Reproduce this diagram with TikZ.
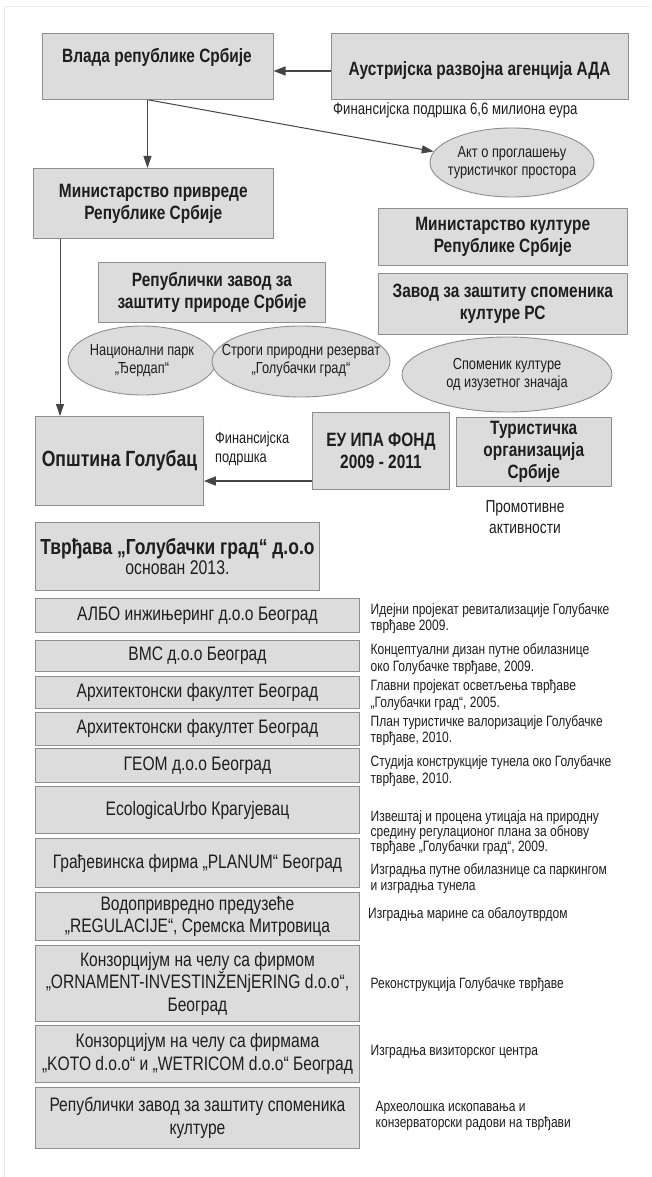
\documentclass[tikz,border=0pt]{standalone}
\usepackage{fontspec}
\setmainfont{Liberation Sans}[FakeStretch=0.8]
\usetikzlibrary{arrows.meta,shapes.geometric}
\definecolor{boxfill}{HTML}{DCDCDC}
\definecolor{boxline}{HTML}{8E8E8E}
\definecolor{ink}{HTML}{1E1E1E}
\definecolor{arrowcol}{HTML}{454545}
\definecolor{framecol}{HTML}{ECECEC}
\begin{document}
\begin{tikzpicture}[x=1pt,y=-1pt,
  box/.style={draw=boxline,fill=boxfill,line width=0.9pt,rectangle,anchor=north west,
    inner sep=0pt,text=ink,align=center},
  oval/.style={draw=boxline,fill=boxfill,line width=0.9pt,ellipse,inner sep=0pt},
  ovaltext/.style={text=ink,inner sep=0pt,align=center,font=\fontsize{16}{18.5}\selectfont},
  bt/.style={font=\bfseries\fontsize{19.3}{22}\selectfont},
  rt/.style={font=\fontsize{19.5}{22.5}\selectfont},
  note/.style={anchor=west,align=left,text=ink,inner sep=0pt,font=\fontsize{15}{16.7}\selectfont},
  txt/.style={text=ink,inner sep=0pt},
  thinarrow/.style={draw=arrowcol,line width=1pt,-{Triangle[length=12pt,width=8pt]}},
  thickarrow/.style={draw=arrowcol,line width=1.6pt,-{Triangle[length=12pt,width=9pt]}}
]
\useasboundingbox (0,0) rectangle (651,1177);
\fill[white] (0,0) rectangle (651,1177);
\draw[framecol,line width=0.8pt] (4,1177) -- (4,6) -- (651,6);

% top boxes
\node[box,minimum width=231.1pt,minimum height=66pt] (vlada) at (41.5,33) {};
\node[txt,bt] (vladat) at (157,57) {Влада републике Србије};
\node[box,minimum width=297pt,minimum height=66pt] (aus) at (331,33) {};
\node[txt,bt] (aust) at (479.5,71) {Аустријска развојна агенција АДА};
\node[note,font=\fontsize{16.5}{18}\selectfont] (fin66) at (333,110) {Финансијска подршка 6,6 милиона еура};

\node[oval,minimum width=164pt,minimum height=69pt] (akt) at (512,162.5) {};
\node[ovaltext] (aktt) at (akt) {Акт о проглашењу\\туристичког простора};

\node[box,bt,minimum width=239.6pt,minimum height=70pt] (minp) at (33,168) {Министарство привреде\\Републике Србије};
\node[box,bt,minimum width=249.4pt,minimum height=57pt] (mink) at (377.6,208) {Министарство културе\\Републике Србије};
\node[box,bt,minimum width=227pt,minimum height=60pt] (rzzp) at (98,262) {Републички завод за\\заштиту природе Србије};
\node[box,bt,minimum width=249.4pt,minimum height=61pt] (zzsk) at (377.6,273) {Завод за заштиту споменика\\културе РС};

\node[oval,minimum width=148pt,minimum height=69pt] (np) at (142,360.5) {};
\node[ovaltext] (npt) at (np) {Национални парк\\„Ђердап“};
\node[oval,minimum width=178pt,minimum height=71pt] (srr) at (301,361.5) {};
\node[ovaltext] (srrt) at ([yshift=1pt]srr.center) {Строги природни резерват\\„Голубачки град“};
\node[oval,minimum width=210pt,minimum height=75pt] (spk) at (507,374.5) {};
\node[ovaltext] (spkt) at (spk) {Споменик културе\\од изузетног значаја};

\node[box,minimum width=168pt,minimum height=89pt,font=\bfseries\fontsize{22}{26}\selectfont] (opst) at (35,416) {Општина Голубац};
\node[box,bt,minimum width=137pt,minimum height=77pt] (eu) at (312,412) {ЕУ ИПА ФОНД\\2009 - 2011};
\node[box,bt,minimum width=155.4pt,minimum height=69pt] (tos) at (455.6,417) {Туристичка\\организација\\Србије};
\node[note,font=\fontsize{16}{19}\selectfont] (finp) at (215,448.5) {Финансијска\\подршка};
\node[txt,align=center,font=\fontsize{17.3}{21}\selectfont] (promo) at (525,517.5) {Промотивне\\активности};

\node[box,minimum width=284pt,minimum height=68pt] (tvr) at (35,522) {{\bfseries\fontsize{21.8}{22}\selectfont Тврђава „Голубачки град“ д.о.о}\\[1pt]{\fontsize{19.8}{20}\selectfont основан 2013.}};

% rows
\node[box,rt,minimum width=324pt,minimum height=34pt] (albo) at (35,598) {АЛБО инжињеринг д.о.о Београд};
\node[box,rt,minimum width=324pt,minimum height=31pt] (vms) at (35,640) {ВМС д.о.о Београд};
\node[box,rt,minimum width=324pt,minimum height=32pt] (arh1) at (35,676) {Архитектонски факултет Београд};
\node[box,rt,minimum width=324pt,minimum height=33pt] (arh2) at (35,712) {Архитектонски факултет Београд};
\node[box,rt,minimum width=324pt,minimum height=34pt] (geom) at (35,748) {ГЕОМ д.о.о Београд};
\node[box,rt,minimum width=324pt,minimum height=47pt] (eco) at (35,786) {EcologicaUrbo Крагујевац};
\node[box,rt,minimum width=324pt,minimum height=49pt] (plan) at (35,838) {Грађевинска фирма „PLANUM“ Београд};
\node[box,rt,minimum width=324pt,minimum height=48pt] (vod) at (35,892) {Водопривредно предузеће\\„REGULACIJE“, Сремска Митровица};
\node[box,rt,minimum width=324pt,minimum height=76pt] (kon1) at (35,945) {Конзорцијум на челу са фирмом\\„ORNAMENT-INVESTINŽENjERING d.o.o“,\\Београд};
\node[box,rt,minimum width=324pt,minimum height=57pt] (kon2) at (35,1025) {Конзорцијум на челу са фирмама\\„KOTO d.o.o“ и „WETRICOM d.o.o“ Београд};
\node[box,rt,minimum width=324pt,minimum height=61pt] (rzsk) at (35,1087) {Републички завод за заштиту споменика\\културе};

% notes
\node[note] (n1) at (370.5,618.5) {Идејни пројекат ревитализације Голубачке\\тврђаве 2009.};
\node[note] (n2) at (370.5,659) {Концептуални дизан путне обилазнице\\око Голубачке тврђаве, 2009.};
\node[note] (n3) at (370.5,695) {Главни пројекат осветљења тврђаве\\„Голубачки град“, 2005.};
\node[note] (n4) at (370.5,730.5) {План туристичке валоризације Голубачке\\тврђаве, 2010.};
\node[note] (n5) at (370.5,771) {Студија конструкције тунела око Голубачке\\тврђаве, 2010.};
\node[note,font=\fontsize{15}{15}\selectfont] (n6) at (370.5,832.5) {Извештај и процена утицаја на природну\\средину регулационог плана за обнову\\тврђаве „Голубачки град“, 2009.};
\node[note] (n7) at (370.5,878.5) {Изградња путне обилазнице са паркингом\\и изградња тунела};
\node[note] (n8) at (368,915) {Изградња марине са обалоутврдом};
\node[note] (n9) at (370.5,985) {Реконструкција Голубачке тврђаве};
\node[note] (n10) at (370.5,1052) {Изградња визиторског центра};
\node[note] (n11) at (375.5,1116) {Археолошка ископавања и\\конзерваторски радови на тврђави};

% connectors
\coordinate (xl) at (60,0);
\coordinate (ylow) at (0,481);
\draw[thickarrow] (aus.west |- aust) -- (vlada.east |- aust);
\draw[thinarrow] ([xshift=-10pt]vlada.south) -- ([xshift=-10pt]vlada.south |- minp.north);
\draw[thinarrow] ([xshift=-9pt]vlada.south) -- (akt.172);
\draw[thinarrow] (minp.south -| xl) -- (opst.north -| xl);
\draw[thickarrow] (eu.west |- ylow) -- (opst.east |- ylow);
\end{tikzpicture}
\end{document}
